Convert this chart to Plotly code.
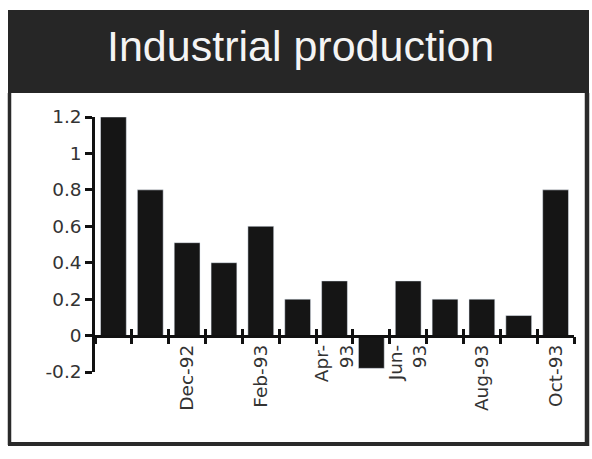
import plotly.graph_objects as go

months = ["Oct-92", "Nov-92", "Dec-92", "Jan-93", "Feb-93", "Mar-93", "Apr-93",
          "May-93", "Jun-93", "Jul-93", "Aug-93", "Sep-93", "Oct-93"]
values = [1.2, 0.8, 0.51, 0.4, 0.6, 0.2, 0.3, -0.18, 0.3, 0.2, 0.2, 0.11, 0.8]
tick_labels = ["", "", "Dec-92", "", "Feb-93", "", "Apr-<br>93",
               "", "Jun-<br>93", "", "Aug-93", "", "Oct-93"]
y_ticks = [-0.2, 0, 0.2, 0.4, 0.6, 0.8, 1, 1.2]
y_tick_text = ["-0.2", "0", "0.2", "0.4", "0.6", "0.8", "1", "1.2"]
title_text = "Industrial production"

W, H = 592, 459
L, R, T, B = 95, 18, 117, 87
PW, PH = W - L - R, H - T - B
YMIN, YMAX = -0.2, 1.2


def px(x):
    return (x - L) / PW


def py(y):
    return (H - B - y) / PH


fig = go.Figure()
fig.add_trace(go.Bar(x=months, y=values, marker=dict(color="#151515", line=dict(width=0)),
                     hoverinfo="x+y"))
# duplicate on overlay axes to get ticks crossing the x axis line
fig.add_trace(go.Bar(x=months, y=values, xaxis="x2", yaxis="y2",
                     marker=dict(color="rgba(0,0,0,0)"), hoverinfo="skip", showlegend=False))

zero_pos = (0 - YMIN) / (YMAX - YMIN)
x_font = dict(family="DejaVu Sans", size=18.5, color="#333333")
y_font = dict(family="DejaVu Sans", size=18.5, color="#333333")

fig.update_layout(
    width=W, height=H, autosize=False,
    margin=dict(l=L, r=R, t=T, b=B),
    paper_bgcolor="white", plot_bgcolor="white",
    showlegend=False, bargap=0.3,
    xaxis=dict(type="category", categoryorder="array", categoryarray=months,
               range=[-0.5, len(months) - 0.5],
               tickmode="array", tickvals=months, ticktext=tick_labels,
               tickson="boundaries", ticks="outside", ticklen=7, tickwidth=2.5,
               tickcolor="#111", tickangle=-90, tickfont=x_font,
               showline=True, linecolor="#111", linewidth=2.5,
               showgrid=False, zeroline=False,
               anchor="free", position=zero_pos),
    xaxis2=dict(type="category", matches="x", overlaying="x",
                tickmode="array", tickvals=months, ticktext=[""] * len(months),
                tickson="boundaries", ticks="inside", ticklen=7, tickwidth=2.5,
                tickcolor="#111", showline=False, showgrid=False, zeroline=False,
                anchor="free", position=zero_pos, side="bottom", showticklabels=False),
    yaxis=dict(range=[YMIN, YMAX], tickmode="array", tickvals=y_ticks, ticktext=y_tick_text,
               ticks="outside", ticklen=7, tickwidth=2.5, tickcolor="#111",
               tickfont=y_font, showline=True, linecolor="#111", linewidth=2.5,
               showgrid=False, zeroline=False),
    yaxis2=dict(range=[YMIN, YMAX], matches="y", overlaying="y", showticklabels=False,
                ticks="", showline=False, showgrid=False, zeroline=False),
    shapes=[
        # dark title banner
        dict(type="rect", xref="paper", yref="paper", x0=px(8), x1=px(589), y0=py(93), y1=py(10),
             fillcolor="#262626", line=dict(width=0), layer="below"),
        # panel frame
        dict(type="line", xref="paper", yref="paper", x0=px(9.5), x1=px(9.5), y0=py(93), y1=py(445),
             line=dict(color="#2a2a2a", width=3.5)),
        dict(type="line", xref="paper", yref="paper", x0=px(8), x1=px(589), y0=py(444), y1=py(444),
             line=dict(color="#2a2a2a", width=4)),
        dict(type="line", xref="paper", yref="paper", x0=px(587), x1=px(587), y0=py(93), y1=py(446),
             line=dict(color="#2a2a2a", width=4.5)),
    ],
    annotations=[
        dict(text=title_text, xref="paper", yref="paper", x=px(300), y=py(46),
             xanchor="center", yanchor="middle", showarrow=False,
             font=dict(family="Liberation Sans", size=43, color="#f4f4f4")),
    ],
)

fig.write_html("out.html", config={"displayModeBar": False},
               post_script="document.body.style.margin='0px';")
